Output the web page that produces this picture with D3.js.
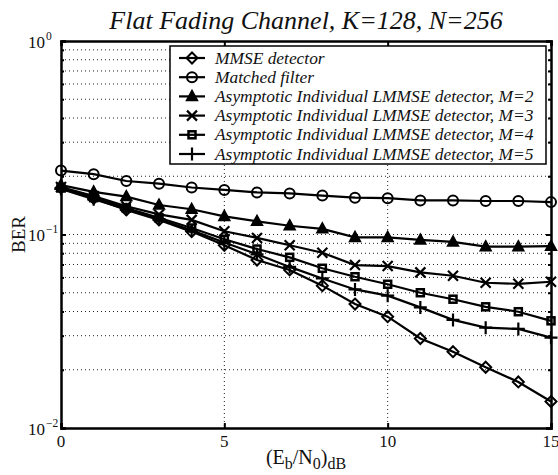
<!DOCTYPE html>
<html><head><meta charset="utf-8">
<script src="https://cdn.jsdelivr.net/npm/d3@7/dist/d3.min.js"></script>
<style>body{margin:0;background:#fff}svg{display:block}text{font-family:"Liberation Serif","Times New Roman",serif;fill:#111}</style>
</head><body><svg id="c" width="558" height="475"></svg>
<script>
const xValues = [0,1,2,3,4,5,6,7,8,9,10,11,12,13,14,15];
const seriesNames = ["MMSE detector","Matched filter","Asymptotic Individual LMMSE detector, M=2","Asymptotic Individual LMMSE detector, M=3","Asymptotic Individual LMMSE detector, M=4","Asymptotic Individual LMMSE detector, M=5"];
const markerTypes = ["diamond","circle","triangle","cross","square","plus"];
const mmse = [0.174,0.154,0.134,0.119,0.1035,0.088,0.0738,0.0656,0.0544,0.0437,0.0376,0.029,0.0248,0.0206,0.0173,0.0137];
const matched = [0.214,0.205,0.189,0.183,0.175,0.170,0.165,0.163,0.159,0.155,0.154,0.150,0.150,0.149,0.149,0.147];
const m2 = [0.180,0.166,0.157,0.142,0.135,0.124,0.117,0.111,0.107,0.0966,0.0966,0.0937,0.0915,0.0865,0.0865,0.087];
const m3 = [0.176,0.158,0.140,0.127,0.119,0.104,0.096,0.088,0.0805,0.0695,0.0687,0.0637,0.0612,0.0563,0.0556,0.057];
const m4 = [0.174,0.155,0.137,0.122,0.108,0.0945,0.0841,0.0762,0.0669,0.0605,0.0553,0.050,0.0463,0.0423,0.0399,0.0358];
const m5 = [0.172,0.152,0.135,0.120,0.105,0.091,0.079,0.068,0.0593,0.052,0.0483,0.042,0.0362,0.033,0.0325,0.0293];
const xTicks = [0,5,10,15];
const yTickExps = [0,-1,-2];
const titleText = "Flat Fading Channel, K=128, N=256";
const yLabel = "BER";

const series = [mmse,matched,m2,m3,m4,m5];
const svg = d3.select("#c");
const L=61,R=551,T=41,B=428;
const x = d3.scaleLinear().domain([0,15]).range([L,R]);
const y = d3.scaleLog().domain([0.01,1]).range([B,T]);

// grid
const g = svg.append("g");
const minor=[];
for(const e of [-2,-1]) for(let k=2;k<=9;k++) minor.push(k*Math.pow(10,e));
const gridY=[...minor,0.1];
g.selectAll(".gy").data(gridY).enter().append("line")
 .attr("x1",L).attr("x2",R).attr("y1",d=>y(d)).attr("y2",d=>y(d))
 .attr("stroke","#222").attr("stroke-width",1).attr("stroke-dasharray","1,3");
g.selectAll(".gx").data([5,10]).enter().append("line")
 .attr("y1",T).attr("y2",B).attr("x1",d=>x(d)).attr("x2",d=>x(d))
 .attr("stroke","#222").attr("stroke-width",1).attr("stroke-dasharray","1,3");

// axes with inward ticks
const axB = d3.axisBottom(x).tickValues(xTicks).tickSize(-5).tickFormat("");
const axT = d3.axisTop(x).tickValues(xTicks).tickSize(-5).tickFormat("");
const allY=[...minor,0.1,1,0.01];
const axL = d3.axisLeft(y).tickValues(allY).tickSize(-5).tickFormat("");
const axR = d3.axisRight(y).tickValues(allY).tickSize(-5).tickFormat("");
function sty(sel){sel.selectAll("path,line").attr("stroke","#000").attr("stroke-width",2);}
svg.append("g").attr("transform",`translate(0,${B})`).call(axB).call(sty);
svg.append("g").attr("transform",`translate(0,${T})`).call(axT).call(sty);
svg.append("g").attr("transform",`translate(${L},0)`).call(axL).call(sty);
svg.append("g").attr("transform",`translate(${R},0)`).call(axR).call(sty);
svg.selectAll(".domain").attr("stroke-width",2.5);
svg.selectAll(".tick line").each(function(d){ if(minor.includes(d)){ const l=d3.select(this); const v=+l.attr("x2"); l.attr("x2", v<0?-3:3);} });

// tick labels
svg.selectAll(".xl").data(xTicks).enter().append("text")
 .attr("x",d=>x(d)).attr("y",B+19).attr("text-anchor","middle").attr("font-size",17).text(d=>d);
yTickExps.forEach(e=>{
 const yy=y(Math.pow(10,e));
 svg.append("text").attr("x",L-16).attr("y",yy+6.5).attr("text-anchor","end").attr("font-size",17).text("10");
 svg.append("text").attr("x",L-15).attr("y",yy-1.5).attr("text-anchor","start").attr("font-size",11.5).text(e===0?"0":"\u2212"+(-e));
});

// title
svg.append("text").attr("x",(L+R)/2).attr("y",29).attr("text-anchor","middle")
 .attr("font-size",26).attr("font-style","italic").text(titleText);
// ylabel
svg.append("text").attr("transform",`translate(25,${(T+B)/2}) rotate(-90)`).attr("text-anchor","middle")
 .attr("font-size",19).text(yLabel);
// xlabel
const xl=svg.append("text").attr("x",(L+R)/2).attr("y",464).attr("text-anchor","middle").attr("font-size",20);
xl.append("tspan").text("(E");
xl.append("tspan").attr("dy",5).attr("font-size",16).text("b");
xl.append("tspan").attr("dy",-5).text("/N");
xl.append("tspan").attr("dy",5).attr("font-size",16).text("0");
xl.append("tspan").attr("dy",-5).text(")");
xl.append("tspan").attr("dy",5).attr("font-size",16).text("dB");

// markers
function drawMarker(sel,type){
 const s=sel;
 if(type==="diamond") s.append("path").attr("d","M0,-5.5L5.5,0L0,5.5L-5.5,0Z").attr("fill","none").attr("stroke","#000").attr("stroke-width",2);
 else if(type==="circle") s.append("circle").attr("r",5).attr("fill","none").attr("stroke","#000").attr("stroke-width",2);
 else if(type==="triangle") s.append("path").attr("d","M0,-6L5.5,4L-5.5,4Z").attr("fill","#000").attr("stroke","#000").attr("stroke-width",1.5);
 else if(type==="square") s.append("rect").attr("x",-3.5).attr("y",-3.5).attr("width",7).attr("height",7).attr("fill","none").attr("stroke","#000").attr("stroke-width",2.5);
 else if(type==="cross") s.append("path").attr("d","M-5,-5L5,5M-5,5L5,-5").attr("stroke","#000").attr("stroke-width",2.2);
 else if(type==="plus") s.append("path").attr("d","M-6.5,0L6.5,0M0,-6.5L0,6.5").attr("stroke","#000").attr("stroke-width",2.2);
}
const line=d3.line().x((d,i)=>x(xValues[i])).y(d=>y(d));
series.forEach((vals,si)=>{
 svg.append("path").datum(vals).attr("d",line).attr("fill","none").attr("stroke","#000").attr("stroke-width",2.2);
});
series.forEach((vals,si)=>{
 vals.forEach((v,i)=>{
  const m=svg.append("g").attr("transform",`translate(${x(xValues[i])},${y(v)})`);
  drawMarker(m,markerTypes[si]);
 });
});

// legend
const lg=svg.append("g");
const lx=170, ly=46, lw=376, lh=118;
lg.append("rect").attr("x",lx).attr("y",ly).attr("width",lw).attr("height",lh).attr("fill","#fff").attr("stroke","#000").attr("stroke-width",1.5);
seriesNames.forEach((n,i)=>{
 const cy=ly+12+i*19.2;
 lg.append("line").attr("x1",lx+9).attr("x2",lx+35).attr("y1",cy).attr("y2",cy).attr("stroke","#000").attr("stroke-width",2.2);
 const m=lg.append("g").attr("transform",`translate(${lx+22},${cy})`);
 drawMarker(m,markerTypes[i]);
 lg.append("text").attr("x",lx+45).attr("y",cy+5.5).attr("font-size",17.4).attr("font-style","italic").text(n);
});
</script></body></html>
